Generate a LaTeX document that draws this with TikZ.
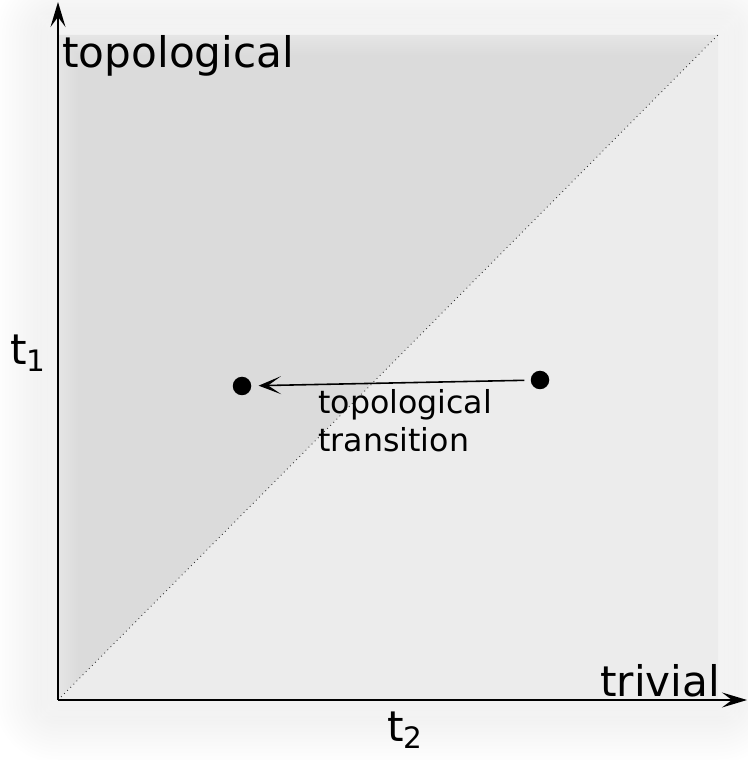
\documentclass[tikz,border=0pt]{standalone}
\usepackage{fontspec}
\setmainfont{DejaVu Sans}
\usetikzlibrary{positioning,arrows.meta}
\definecolor{upperfill}{gray}{0.86}
\definecolor{lowerfill}{gray}{0.925}

\begin{document}
\begin{tikzpicture}[axis/.style={line width=1.1pt,-{Stealth[length=5mm,width=3mm,inset=2mm]}},
  dot/.style={circle,fill=black,inner sep=0pt,minimum size=3.7mm},
  biglabel/.style={inner sep=0pt,font=\fontsize{24}{29}\selectfont}]
\useasboundingbox (0,0) rectangle (14.94,15.2);
\coordinate (O) at (1.16,1.2);
\coordinate (ytop) at (1.16,15.16);
\coordinate (xend) at (14.94,1.2);
\coordinate (diagend) at (14.36,14.5);
% soft halo round the shaded square
\foreach \r in {1,...,18}
  \fill[black,opacity=0.005,rounded corners=\r*0.07cm] ([shift={(-\r*0.07,-\r*0.07)}]O) rectangle ([shift={(\r*0.07,\r*0.07)}]diagend);
\fill[upperfill] (O) -- (diagend) -- (O |- diagend) -- cycle;
\fill[lowerfill] (O) -- (diagend) -- (diagend |- O) -- cycle;
% blur the edges inwards
\foreach \r in {1,...,10}
  \draw[white,opacity=0.05,line width=\r*0.08cm] (O) rectangle (diagend);
\draw[dotted,line width=0.5pt,black!80] (O) -- (diagend);
\draw[axis] (O) -- (ytop);
\draw[axis] (O) -- (xend);
\node[biglabel,anchor=base west] (topo) at (1.24,13.84) {topological};
\node[biglabel,anchor=base west] (triv) at (12.0,1.26) {trivial};
\node[biglabel,anchor=base west] (t1) at (0.2,7.9) {t\textsubscript{1}};
\node[biglabel,anchor=base west] (t2) at (7.74,0.36) {t\textsubscript{2}};
\node[dot] (before) at (10.8,7.6) {};
\node[dot] (after) at (4.84,7.48) {};
\draw[line width=0.9pt,-{Stealth[length=4.5mm,width=3.6mm,inset=2.6mm]},shorten <=1.2mm,shorten >=1.4mm] (before) -- (after);
\node[anchor=north west,inner sep=0pt,align=left,font=\fontsize{18}{21.6}\selectfont] (trans) at (6.36,7.42) {topological\\transition};
\end{tikzpicture}
\end{document}
